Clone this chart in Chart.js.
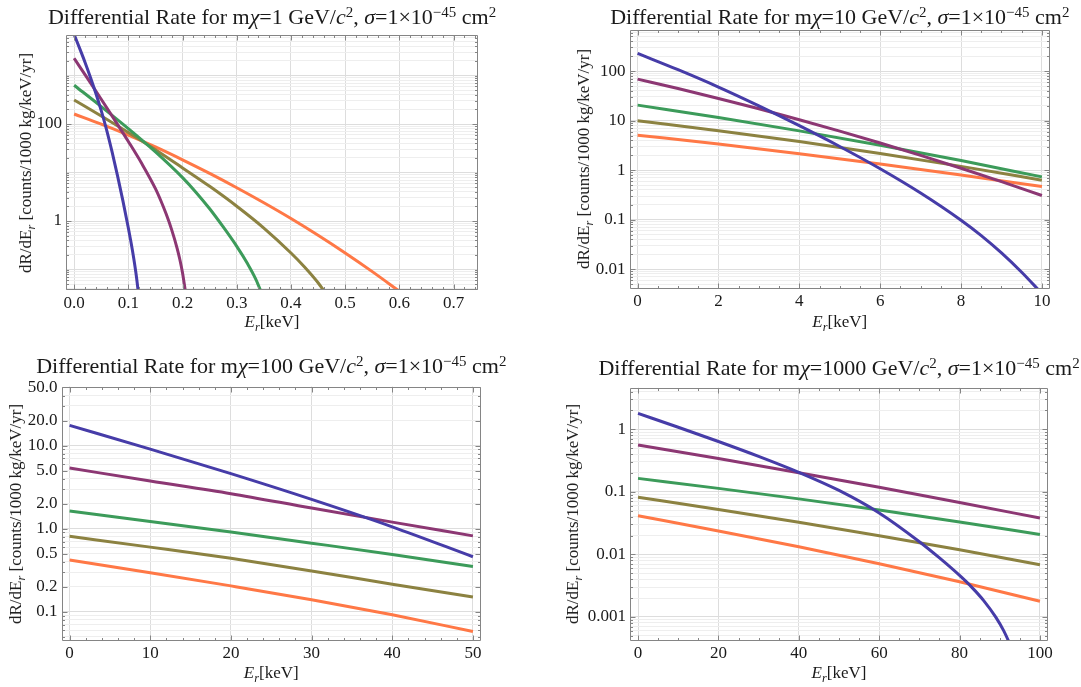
<!DOCTYPE html>
<html>
<head>
<meta charset="utf-8">
<title>Differential Rate</title>
<script src="https://cdn.jsdelivr.net/npm/chart.js@4.4.0/dist/chart.umd.min.js"></script>
<style>
  html, body { margin: 0; padding: 0; background: #fff; }
  body { width: 1081px; height: 687px; position: relative; overflow: hidden;
         font-family: 'Liberation Serif', 'Times New Roman', serif; color: #1a1a1a; }
  canvas { position: absolute; }
  .title { position: absolute; white-space: nowrap; font-size: 22px; line-height: 24px;
           transform: translateX(-50%); }
  .xlab { position: absolute; white-space: nowrap; font-size: 17px; line-height: 20px;
          transform: translate(-50%, -50%); }
  .ylab { position: absolute; white-space: nowrap; font-size: 17px; line-height: 20px;
          transform: translate(-50%, -50%) rotate(-90deg); }
  sup { font-size: 0.68em; vertical-align: 0.5em; line-height: 0; }
  sub { font-size: 0.72em; vertical-align: -0.3em; line-height: 0; }
</style>
</head>
<body>
<script>
// ---- data: [E_r in keV, dR/dE_r] ----
// m_chi = 1 GeV
const mx1Blue   = [[0,6998],[0.01,3673],[0.02,1884],[0.03,923],[0.04,431.5],[0.05,188.4],[0.06,75],[0.07,26.6],[0.08,8.61],[0.09,2.6],[0.1,0.716],[0.105,0.359],[0.11,0.168],[0.115,0.07],[0.12,0.0234]];
const mx1Purple = [[0,2265],[0.025,861],[0.05,323.6],[0.075,120.2],[0.1,43.65],[0.125,15.14],[0.15,4.65],[0.16,2.615],[0.17,1.372],[0.18,0.657],[0.19,0.274],[0.195,0.161],[0.2,0.0846],[0.205,0.0369]];
const mx1Green  = [[0,631],[0.05,229],[0.1,80.4],[0.15,26.6],[0.2,7.85],[0.225,3.89],[0.25,1.789],[0.275,0.754],[0.3,0.3],[0.32,0.131],[0.335,0.0635],[0.35,0.025]];
const mx1Olive  = [[0,312.6],[0.05,146.2],[0.1,66.8],[0.15,29.5],[0.2,12.45],[0.25,5.19],[0.3,2.018],[0.35,0.716],[0.4,0.219],[0.425,0.1129],[0.45,0.0534],[0.475,0.0213]];
const mx1Orange = [[0,160.7],[0.05,99.1],[0.1,59],[0.15,33.6],[0.2,18.24],[0.25,9.57],[0.3,4.85],[0.35,2.377],[0.4,1.125],[0.45,0.508],[0.5,0.219],[0.55,0.0904],[0.6,0.0356]];
// m_chi = 10 GeV
const mx10Blue   = [[0,228],[1,106.7],[2,47.6],[3,19.86],[4,7.91],[5,3.006],[6,1.067],[7,0.345],[8,0.0973],[8.5,0.0476],[9,0.0213],[9.5,0.00867],[10,0.00322]];
const mx10Purple = [[0,68.9],[1,44.5],[2,28.05],[3,17.3],[4,10.42],[5,6.14],[6,3.53],[7,1.986],[8,1.091],[9,0.586],[10,0.3076]];
const mx10Green  = [[0,20.56],[2,11.56],[4,6.21],[6,3.18],[8,1.56],[10,0.73]];
const mx10Olive  = [[0,9.91],[2,6.25],[4,3.77],[6,2.17],[8,1.19],[10,0.625]];
const mx10Orange = [[0,5.09],[2,3.365],[4,2.153],[6,1.334],[8,0.8],[10,0.465]];
// m_chi = 100 GeV
const mx100Blue   = [[0,17.5],[10,9.08],[20,4.6],[30,2.254],[40,1.054],[50,0.46]];
const mx100Purple = [[0,5.37],[10,3.75],[20,2.64],[30,1.77],[40,1.2],[50,0.82]];
const mx100Green  = [[0,1.63],[10,1.22],[20,0.91],[30,0.67],[40,0.49],[50,0.35]];
const mx100Olive  = [[0,0.81],[10,0.6],[20,0.44],[30,0.31],[40,0.215],[50,0.151]];
const mx100Orange = [[0,0.42],[10,0.295],[20,0.205],[30,0.14],[40,0.092],[50,0.058]];
// m_chi = 1000 GeV
const mx1000Blue   = [[0,1.8],[10,1.079],[20,0.638],[30,0.369],[40,0.205],[50,0.1052],[60,0.0459],[70,0.0159],[75,0.00875],[80,0.00459],[83,0.00299],[86,0.00182],[89,0.00099],[91,0.000597],[93,0.000313]];
const mx1000Purple = [[0,0.56],[20,0.34],[40,0.2023],[60,0.118],[80,0.0676],[100,0.038]];
const mx1000Green  = [[0,0.164],[20,0.1135],[40,0.0771],[60,0.0512],[80,0.033],[100,0.0207]];
const mx1000Olive  = [[0,0.082],[20,0.052],[40,0.0325],[60,0.01986],[80,0.0118],[100,0.00682]];
const mx1000Orange = [[0,0.0415],[20,0.02366],[40,0.01318],[60,0.00708],[80,0.00363],[100,0.00178]];

// tick values and labels
const x1Ticks = [0, 0.1, 0.2, 0.3, 0.4, 0.5, 0.6, 0.7];
const x1Labels = ['0.0', '0.1', '0.2', '0.3', '0.4', '0.5', '0.6', '0.7'];
const x10Ticks = [0, 2, 4, 6, 8, 10];
const x100Ticks = [0, 10, 20, 30, 40, 50];
const x1000Ticks = [0, 20, 40, 60, 80, 100];
const y1Ticks = [100, 1];
const y1Labels = ['100', '1'];
const y10Ticks = [100, 10, 1, 0.1, 0.01];
const y10Labels = ['100', '10', '1', '0.1', '0.01'];
const y100Ticks = [50, 20, 10, 5, 2, 1, 0.5, 0.2, 0.1];
const y100Labels = ['50.0', '20.0', '10.0', '5.0', '2.0', '1.0', '0.5', '0.2', '0.1'];
const y1000Ticks = [1, 0.1, 0.01, 0.001];
const y1000Labels = ['1', '0.1', '0.01', '0.001'];

const masses = ['1', '10', '100', '1000'];
const seriesColors = ['#463ca8', '#8c3773', '#3c9b5a', '#8c8241', '#ff7846'];

// ---- layout (pixels) ----
const panels = [
  { canvas: { left: 0, top: 0, width: 490, height: 315 }, area: { left: 66, top: 35, right: 478, bottom: 290 },
    xMin: -0.015, xMax: 0.745, xTicks: x1Ticks, xLabels: x1Labels, xMinor: 0.02,
    yMin: 0.0378, yMax: 6840, yTicks: y1Ticks, yLabels: y1Labels,
    series: [mx1Blue, mx1Purple, mx1Green, mx1Olive, mx1Orange],
    titleY: 5, xlabY: 322, ylabX: 26 },
  { canvas: { left: 540, top: 0, width: 541, height: 315 }, area: { left: 629.5, top: 30, right: 1050, bottom: 288.5 },
    xMin: -0.2, xMax: 10.2, xTicks: x10Ticks, xLabels: x10Ticks.map(String), xMinor: 0.5,
    yMin: 0.00407, yMax: 676, yTicks: y10Ticks, yLabels: y10Labels,
    series: [mx10Blue, mx10Purple, mx10Green, mx10Olive, mx10Orange],
    titleY: 5, xlabY: 322, ylabX: 584 },
  { canvas: { left: 0, top: 345, width: 500, height: 342 }, area: { left: 61.5, top: 386.5, right: 481, bottom: 640.7 },
    xMin: -1, xMax: 51, xTicks: x100Ticks, xLabels: x100Ticks.map(String), xMinor: 2,
    yMin: 0.0449, yMax: 51.4, yTicks: y100Ticks, yLabels: y100Labels,
    series: [mx100Blue, mx100Purple, mx100Green, mx100Olive, mx100Orange],
    titleY: 354, xlabY: 673, ylabX: 16 },
  { canvas: { left: 540, top: 345, width: 541, height: 342 }, area: { left: 630, top: 387.7, right: 1048, bottom: 640.7 },
    xMin: -2, xMax: 102, xTicks: x1000Ticks, xLabels: x1000Ticks.map(String), xMinor: 5,
    yMin: 0.000415, yMax: 4.63, yTicks: y1000Ticks, yLabels: y1000Labels,
    series: [mx1000Blue, mx1000Purple, mx1000Green, mx1000Olive, mx1000Orange],
    titleY: 356, xlabY: 673, ylabX: 573 }
];

const FONT = "'Liberation Serif', 'Times New Roman', serif";
const near = (a, b) => Math.abs(a / b - 1) < 1e-6;

// every n x 10^k inside the y range (grid + minor ticks)
function logGrid(min, max) {
  const out = [];
  for (let k = Math.floor(Math.log10(min)); k <= Math.ceil(Math.log10(max)); k++) {
    for (let n = 1; n <= 9; n++) {
      const v = n * Math.pow(10, k);
      if (v >= min && v <= max) out.push(v);
    }
  }
  return out;
}

// frame with inward ticks on all four sides
const framePlugin = {
  id: 'frame',
  afterDatasetsDraw(chart, args, opts) {
    const p = opts.panel;
    const { ctx, chartArea: a } = chart;
    const xs = chart.scales.x, ys = chart.scales.y;
    const L = Math.round(a.left) + 0.5, R = Math.round(a.right) - 0.5;
    const T = Math.round(a.top) + 0.5, B = Math.round(a.bottom) - 0.5;
    ctx.save();
    ctx.strokeStyle = '#858585';
    ctx.lineWidth = 1;
    ctx.beginPath();
    const seg = (x1, y1, x2, y2) => { ctx.moveTo(x1, y1); ctx.lineTo(x2, y2); };
    // x ticks
    const first = Math.ceil(p.xMin / p.xMinor), last = Math.floor(p.xMax / p.xMinor);
    for (let i = first; i <= last; i++) {
      const v = i * p.xMinor;
      const major = p.xTicks.some(t => Math.abs(t - v) < p.xMinor / 10);
      const len = major ? 5 : 2.5;
      const px = Math.round(xs.getPixelForValue(v)) + 0.5;
      seg(px, B, px, B - len);
      seg(px, T, px, T + len);
    }
    // y ticks
    logGrid(p.yMin, p.yMax).forEach(v => {
      const major = p.yTicks.some(t => near(t, v));
      const len = major ? 5 : 2.5;
      const py = Math.round(ys.getPixelForValue(v)) + 0.5;
      seg(L, py, L + len, py);
      seg(R, py, R - len, py);
    });
    seg(L, T, R, T); seg(R, T, R, B); seg(R, B, L, B); seg(L, B, L, T);
    ctx.stroke();
    ctx.restore();
  }
};

panels.forEach((p, idx) => {
  const c = document.createElement('canvas');
  c.width = p.canvas.width;
  c.height = p.canvas.height;
  c.style.left = p.canvas.left + 'px';
  c.style.top = p.canvas.top + 'px';
  c.style.width = p.canvas.width + 'px';
  c.style.height = p.canvas.height + 'px';
  document.body.appendChild(c);

  const yWidth = p.area.left - p.canvas.left;
  const xHeight = p.canvas.top + p.canvas.height - p.area.bottom;
  const padTop = p.area.top - p.canvas.top;
  const padRight = p.canvas.left + p.canvas.width - p.area.right;
  const gridVals = logGrid(p.yMin, p.yMax);

  new Chart(c.getContext('2d'), {
    type: 'line',
    data: {
      datasets: p.series.map((s, i) => ({
        data: s.map(([e, r]) => ({ x: e, y: r })),
        borderColor: seriesColors[i],
        borderWidth: 3,
        pointRadius: 0,
        fill: false,
        cubicInterpolationMode: 'monotone',
        clip: 0
      }))
    },
    options: {
      responsive: false,
      animation: false,
      devicePixelRatio: 1,
      events: [],
      layout: { padding: { left: 0, top: padTop, right: padRight, bottom: 0 } },
      plugins: { legend: { display: false }, tooltip: { enabled: false }, frame: { panel: p } },
      scales: {
        x: {
          type: 'linear',
          min: p.xMin,
          max: p.xMax,
          border: { display: false },
          grid: { color: '#dddddd', drawTicks: false },
          ticks: {
            autoSkip: false, maxRotation: 0, padding: 3, color: '#1a1a1a',
            font: { family: FONT, size: 17 },
            callback: (v, i) => p.xLabels[i]
          },
          afterBuildTicks: s => { s.ticks = p.xTicks.map(v => ({ value: v })); },
          afterFit: s => { s.height = xHeight; }
        },
        y: {
          type: 'logarithmic',
          min: p.yMin,
          max: p.yMax,
          border: { display: false },
          grid: {
            drawTicks: false,
            color: ctx => (ctx.tick && Number.isInteger(Math.round(Math.log10(ctx.tick.value) * 1e6) / 1e6)) ? '#dddddd' : '#eeeeee'
          },
          ticks: {
            autoSkip: false, padding: 4, color: '#1a1a1a',
            font: { family: FONT, size: 17 },
            callback: v => {
              const j = p.yTicks.findIndex(t => near(t, v));
              return j >= 0 ? p.yLabels[j] : '';
            }
          },
          afterBuildTicks: s => { s.ticks = gridVals.map(v => ({ value: v })); },
          afterFit: s => { s.width = yWidth; }
        }
      }
    },
    plugins: [framePlugin]
  });

  const cx = (p.area.left + p.area.right) / 2;
  const cy = (p.area.top + p.area.bottom) / 2;

  const t = document.createElement('div');
  t.className = 'title';
  t.style.left = cx + 'px';
  t.style.top = p.titleY + 'px';
  t.innerHTML = 'Differential Rate for m<i>χ</i>=' + masses[idx] +
    ' GeV/<i>c</i><sup>2</sup>, <i>σ</i>=1×10<sup>−45</sup> cm<sup>2</sup>';
  document.body.appendChild(t);

  const xl = document.createElement('div');
  xl.className = 'xlab';
  xl.style.left = cx + 'px';
  xl.style.top = p.xlabY + 'px';
  xl.innerHTML = '<i>E<sub>r</sub></i>[keV]';
  document.body.appendChild(xl);

  const yl = document.createElement('div');
  yl.className = 'ylab';
  yl.style.left = p.ylabX + 'px';
  yl.style.top = cy + 'px';
  yl.innerHTML = 'dR/dE<sub><i>r</i></sub> [counts/1000 kg/keV/yr]';
  document.body.appendChild(yl);
});
</script>
</body>
</html>
